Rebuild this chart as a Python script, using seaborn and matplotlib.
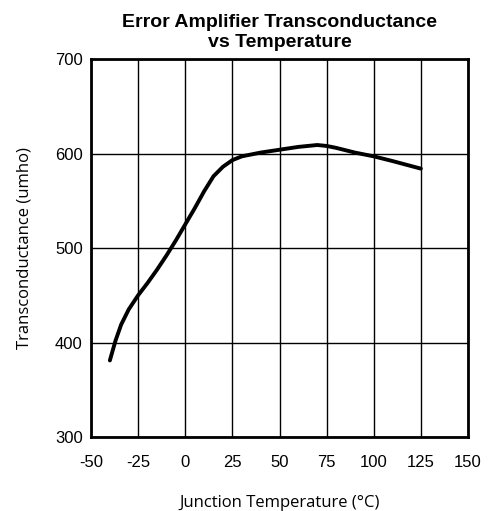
import numpy as np
import pandas as pd
import matplotlib
matplotlib.use("Agg")
import matplotlib.pyplot as plt
import seaborn as sns

sns.set_theme(style="white")
plt.rcParams["axes.unicode_minus"] = False
plt.rcParams["text.color"] = "black"
plt.rcParams["xtick.color"] = "black"
plt.rcParams["ytick.color"] = "black"
plt.rcParams["axes.labelcolor"] = "black"

# Данные
temperature = [-40, -37, -34, -30, -25, -20, -15, -10, -5, 0, 5, 10, 15, 20, 25,
               30, 40, 50, 60, 70, 75, 80, 90, 100, 110, 125]
transconductance = [381, 402, 419, 435, 450, 463, 477, 492, 508, 525, 542, 560, 576,
                    586, 593, 597, 601, 604, 607, 609, 608, 606, 601, 597, 592, 584]
x_ticks = [-50, -25, 0, 25, 50, 75, 100, 125, 150]
y_ticks = [300, 400, 500, 600, 700]

df = pd.DataFrame({"T": temperature, "G": transconductance})

fig = plt.figure(figsize=(4.88, 5.11), dpi=100)
ax = fig.add_axes([0.1865, 0.1448, 0.7725, 0.7397])

sns.lineplot(data=df, x="T", y="G", color="black", linewidth=2.8, ax=ax)

ax.set_xlim(-50, 150)
ax.set_ylim(300, 700)
ax.set_xticks(x_ticks)
ax.set_yticks(y_ticks)
ax.grid(True, color="black", linewidth=1.0)
for s in ax.spines.values():
    s.set_color("black")
    s.set_linewidth(2.0)

ax.tick_params(axis="x", length=0, pad=13, labelsize=12)
ax.tick_params(axis="y", length=0, pad=6, labelsize=12)
for lab in ax.get_xticklabels() + ax.get_yticklabels():
    lab.set_fontfamily("Liberation Sans")

ax.set_title("Error Amplifier Transconductance\nvs Temperature",
             fontsize=14, fontweight="bold", family="Liberation Sans",
             linespacing=1.2, pad=9)
ax.set_xlabel("Junction Temperature (°C)", fontsize=12, family="Open Sans")
ax.set_ylabel("Transconductance (umho)", fontsize=12, family="Open Sans")
ax.xaxis.set_label_coords(0.5, -0.153)
ax.yaxis.set_label_coords(-0.154, 0.5)

fig.savefig("out.png", dpi=100)
